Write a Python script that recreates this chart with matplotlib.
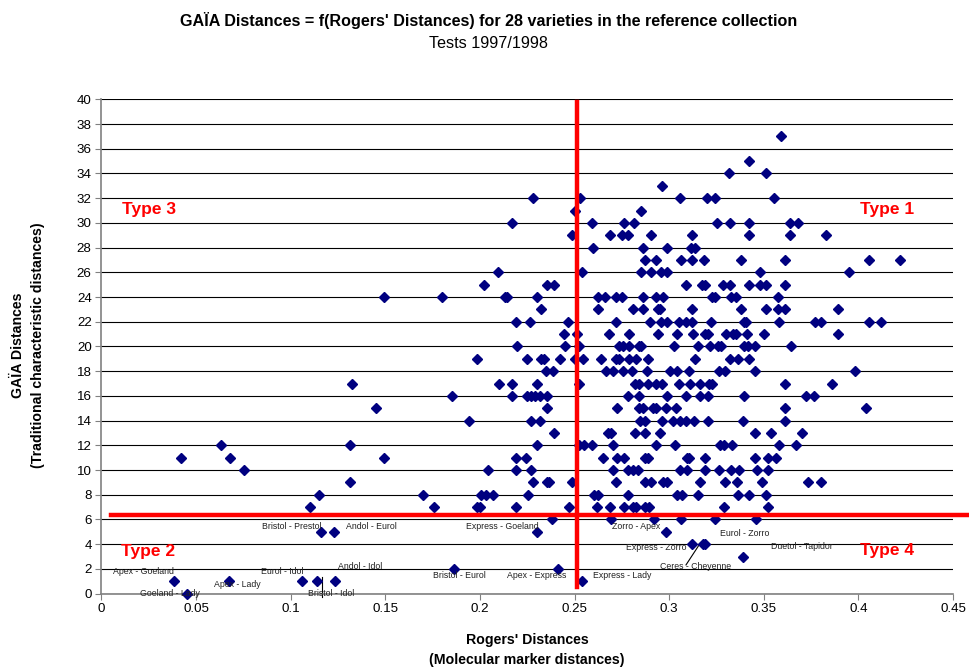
import matplotlib
matplotlib.use("Agg")
import matplotlib.pyplot as plt

plt.rcParams['font.family'] = ['Liberation Sans', 'DejaVu Sans']

# Rogers' distances of the pairs, grouped by their GAIA distance
rogers_by_gaia = {
    37: [0.3592],
    35: [0.3423],
    34: [0.3314, 0.3512],
    33: [0.2962],
    32: [0.2283, 0.2531, 0.3059, 0.3200, 0.3240, 0.3552],
    31: [0.2500, 0.2852],
    30: [0.2172, 0.2590, 0.2759, 0.2812, 0.3252, 0.3323, 0.3423, 0.3640, 0.3681],
    29: [0.2489, 0.2688, 0.2750, 0.2785, 0.2903, 0.3120, 0.3423, 0.3640, 0.3830],
    28: [0.2600, 0.2861, 0.2990, 0.3115, 0.3135],
    27: [0.2870, 0.2932, 0.3063, 0.3120, 0.3182, 0.3379, 0.3610, 0.4054, 0.4220],
    26: [0.2098, 0.2540, 0.2852, 0.2903, 0.2958, 0.2990, 0.3481, 0.3953],
    25: [0.2022, 0.2354, 0.2392, 0.3090, 0.3175, 0.3190, 0.3287, 0.3323, 0.3423,
         0.3481, 0.3513, 0.3610],
    24: [0.1492, 0.1802, 0.2130, 0.2145, 0.2300, 0.2622, 0.2662, 0.2720, 0.2750,
         0.2863, 0.2930, 0.2966, 0.3228, 0.3242, 0.3326, 0.3353, 0.3573],
    23: [0.2322, 0.2622, 0.2811, 0.2861, 0.2939, 0.2953, 0.3120, 0.3381, 0.3511,
         0.3575, 0.3614, 0.3892],
    22: [0.2191, 0.2262, 0.2463, 0.2720, 0.2900, 0.2956, 0.2988, 0.3054, 0.3090,
         0.3122, 0.3223, 0.3393, 0.3406, 0.3582, 0.3769, 0.3804, 0.4054, 0.4121],
    21: [0.2442, 0.2512, 0.2683, 0.2790, 0.2940, 0.3039, 0.3124, 0.3191, 0.3205,
         0.3302, 0.3340, 0.3354, 0.3411, 0.3503, 0.3892],
    20: [0.2198, 0.2450, 0.2521, 0.2733, 0.2755, 0.2790, 0.2838, 0.2850, 0.3023,
         0.3155, 0.3214, 0.3256, 0.3275, 0.3395, 0.3418, 0.3455, 0.3642],
    19: [0.1984, 0.2251, 0.2322, 0.2336, 0.2424, 0.2503, 0.2544, 0.2641, 0.2720,
         0.2736, 0.2787, 0.2824, 0.2889, 0.3138, 0.3319, 0.3363, 0.3423],
    18: [0.2348, 0.2384, 0.2666, 0.2701, 0.2754, 0.2803, 0.2882, 0.3002, 0.3041,
         0.3103, 0.3266, 0.3293, 0.3455, 0.3980],
    17: [0.1323, 0.2100, 0.2172, 0.2300, 0.2521, 0.2820, 0.2838, 0.2886, 0.2931,
         0.2962, 0.3050, 0.3108, 0.3164, 0.3210, 0.3225, 0.3610, 0.3862],
    16: [0.1851, 0.2172, 0.2248, 0.2271, 0.2292, 0.2315, 0.2354, 0.2783, 0.2840,
         0.2988, 0.3090, 0.3164, 0.3205, 0.3393, 0.3721, 0.3763],
    15: [0.1450, 0.2354, 0.2724, 0.2838, 0.2864, 0.2912, 0.2931, 0.2983, 0.3037,
         0.3610, 0.4041],
    14: [0.1943, 0.2271, 0.2315, 0.2847, 0.2873, 0.2962, 0.3020, 0.3058, 0.3090,
         0.3132, 0.3203, 0.3390, 0.3610],
    13: [0.2389, 0.2675, 0.2692, 0.2820, 0.2870, 0.2953, 0.3453, 0.3540, 0.3702],
    12: [0.0632, 0.1312, 0.2300, 0.2521, 0.2548, 0.2592, 0.2701, 0.2931, 0.3032,
         0.3270, 0.3291, 0.3332, 0.3582, 0.3672],
    11: [0.0420, 0.0681, 0.1492, 0.2191, 0.2242, 0.2650, 0.2727, 0.2762, 0.2873,
         0.2886, 0.3094, 0.3106, 0.3191, 0.3455, 0.3520, 0.3564],
    10: [0.0752, 0.2042, 0.2191, 0.2271, 0.2701, 0.2780, 0.2811, 0.2833, 0.3055,
         0.3094, 0.3191, 0.3261, 0.3326, 0.3367, 0.3464, 0.3522],
    9: [0.1312, 0.2283, 0.2354, 0.2366, 0.2489, 0.2720, 0.2870, 0.2903, 0.2965,
        0.2988, 0.3164, 0.3293, 0.3361, 0.3490, 0.3732, 0.3802],
    8: [0.1150, 0.1701, 0.2006, 0.2031, 0.2071, 0.2255, 0.2603, 0.2624, 0.2785,
        0.3040, 0.3067, 0.3151, 0.3362, 0.3421, 0.3510],
    7: [0.1101, 0.1758, 0.1987, 0.2001, 0.2192, 0.2473, 0.2621, 0.2688, 0.2759,
        0.2808, 0.2826, 0.2871, 0.2894, 0.3290, 0.3523],
    6: [0.2383, 0.2692, 0.2921, 0.3062, 0.3242, 0.3460],
    5: [0.1160, 0.1231, 0.2303, 0.2982],
    4: [0.3121, 0.3180, 0.3192],
    3: [0.3389],
    2: [0.1864, 0.2412],
    1: [0.0383, 0.0674, 0.1062, 0.1141, 0.1234, 0.2537],
    0: [0.0454],
}

rogers = []
gaia = []
for g, xs in rogers_by_gaia.items():
    for x in xs:
        rogers.append(x)
        gaia.append(g)

rogers_cut = 0.2515
gaia_cut = 6.4

# pair names for the low GAIA distances: (text, x, y)
pair_labels = [
    ("Bristol - Prestol", 0.1006, 5.42),
    ("Andol - Eurol", 0.1426, 5.42),
    ("Apex - Goeland", 0.0221, 1.8),
    ("Goeland - Lady", 0.0362, -0.03),
    ("Apex - Lady", 0.0717, 0.75),
    ("Eurol - Idol", 0.0957, 1.77),
    ("Andol - Idol", 0.1367, 2.23),
    ("Bristol - Idol", 0.1214, -0.03),
    ("Express - Goeland", 0.2117, 5.42),
    ("Zorro - Apex", 0.2826, 5.42),
    ("Eurol - Zorro", 0.3400, 4.83),
    ("Express - Zorro", 0.2932, 3.75),
    ("Duetol - Tapidor", 0.3701, 3.85),
    ("Ceres - Cheyenne", 0.3141, 2.23),
    ("Bristol - Eurol", 0.1891, 1.5),
    ("Apex - Express", 0.2302, 1.5),
    ("Express - Lady", 0.2754, 1.5),
]

type_labels = [("Type 3", 0.0107, 31.1), ("Type 1", 0.4006, 31.1),
               ("Type 2", 0.0102, 3.4), ("Type 4", 0.4008, 3.5)]

fig = plt.figure(figsize=(9.69, 6.68), dpi=100)
ax = fig.add_axes([0.1047, 0.1114, 0.8788, 0.7399])

ax.set_xlim(0, 0.45)
ax.set_ylim(0, 40)
ax.set_xticks([0, 0.05, 0.1, 0.15, 0.2, 0.25, 0.3, 0.35, 0.4, 0.45])
ax.set_xticklabels(['0', '0.05', '0.1', '0.15', '0.2', '0.25', '0.3', '0.35', '0.4', '0.45'])
ax.set_yticks(range(0, 41, 2))
ax.yaxis.grid(True, color='black', linewidth=0.8)
ax.set_axisbelow(True)
for s in ['top', 'right']:
    ax.spines[s].set_visible(False)
for s in ['left', 'bottom']:
    ax.spines[s].set_color('#808080')
    ax.spines[s].set_linewidth(1.2)
ax.tick_params(direction='out', length=4, color='#808080', labelsize=9.6, pad=3)

ax.plot(rogers, gaia, linestyle='none', marker='D', markersize=4.9,
        color='#000080', zorder=3, clip_on=False)

# threshold lines
ax.plot([0.005, 0.4587], [gaia_cut, gaia_cut], color='red', linewidth=3.2,
        clip_on=False, zorder=4)
ax.plot([rogers_cut, rogers_cut], [0.56, 39.8], color='red', linewidth=3.2,
        clip_on=False, zorder=4)

for txt, x, y in pair_labels:
    ax.text(x, y, txt, fontsize=6.3, ha='center', va='center', color='#222222',
            zorder=5, clip_on=False)
ax.plot([0.1167, 0.1167], [1.32, -0.3], color='black', linewidth=0.8, clip_on=False)
ax.plot([0.3089, 0.3166], [2.32, 4.12], color='black', linewidth=0.8)

for txt, x, y in type_labels:
    ax.text(x, y, txt, fontsize=12.5, fontweight='bold', color='red',
            ha='left', va='center')

fig.text(0.5046, 0.970, "GAÏA Distances = f(Rogers' Distances) for 28 varieties in the reference collection",
         ha='center', va='center', fontsize=11.6, fontweight='bold')
fig.text(0.5046, 0.9356, "Tests 1997/1998", ha='center', va='center', fontsize=11.6)

fig.text(0.544, 0.0419, "Rogers' Distances", ha='center', va='center',
         fontsize=10.2, fontweight='bold')
fig.text(0.544, 0.012, "(Molecular marker distances)", ha='center', va='center',
         fontsize=10.2, fontweight='bold')
fig.text(0.0186, 0.4835, "GAÏA Distances", ha='center', va='center', rotation=90,
         fontsize=10.2, fontweight='bold')
fig.text(0.0392, 0.4835, "(Traditional characteristic distances)", ha='center',
         va='center', rotation=90, fontsize=10.2, fontweight='bold')

fig.savefig('out.png', dpi=100)
